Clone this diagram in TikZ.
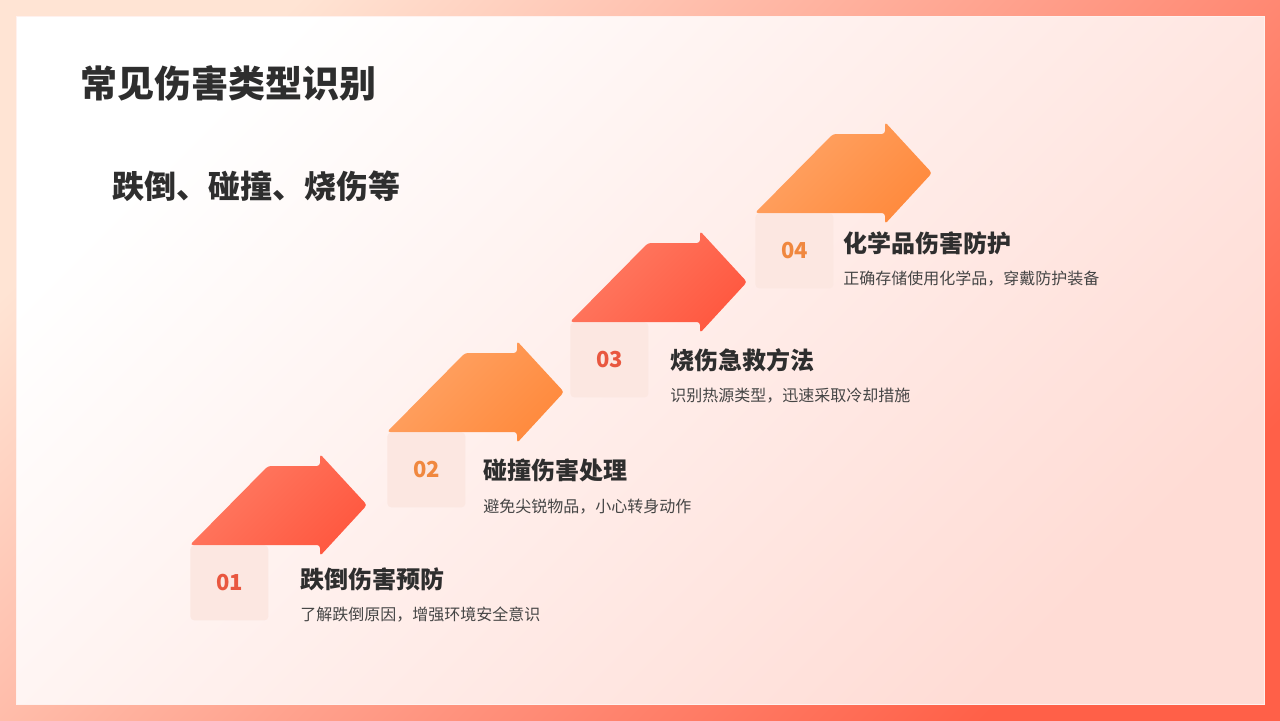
\documentclass[tikz,border=0pt]{standalone}
\usepackage{fontspec}
\setmainfont{Noto Sans CJK SC}
\usetikzlibrary{positioning}
\definecolor{cred}{HTML}{FF5840}
\definecolor{credlt}{HTML}{FF7C64}
\definecolor{corange}{HTML}{FF8A3D}
\definecolor{corangelt}{HTML}{FFA466}
\definecolor{cnumred}{HTML}{E9573F}
\definecolor{cnumorange}{HTML}{F0883F}
\definecolor{cbox}{HTML}{FCE7E1}
\definecolor{cink}{HTML}{2E2E2E}
\definecolor{cgrey}{HTML}{454545}
\definecolor{cframea}{HTML}{FFE4D4}
\definecolor{cframeb}{HTML}{FF6048}
\definecolor{cpanelb}{HTML}{FFDCD5}
\tikzset{
  every picture/.style={x=0.5pt, y=-0.5pt},
  numbox/.style={fill=cbox, rounded corners=2pt, minimum width=39pt, minimum height=37.5pt, inner sep=0pt, font=\bfseries\fontsize{11}{11}\selectfont},
  steptitle/.style={font=\bfseries\fontsize{12}{14}\selectfont, text=cink, anchor=west, inner sep=0pt},
  stepdesc/.style={font=\fontsize{8}{10}\selectfont, text=cgrey, anchor=west, inner sep=0pt},
  heading/.style={font=\bfseries\fontsize{18.5}{20}\selectfont, text=cink, anchor=west, inner sep=0pt},
}

\begin{document}
\begin{tikzpicture}
  \useasboundingbox (0,0) rectangle (1280,720);
  % frame and panel
  \shade[top color=cframea, bottom color=cframeb, shading angle=45] (0,0) rectangle (1280,720);
  \shade[top color=white, bottom color=cpanelb, shading angle=45, draw=white!60!cpanelb, line width=0.4pt] (16,16) rectangle (1264,704);
  \node[heading] (title) at (80,83) {常见伤害类型识别};
  \node[heading, font=\bfseries\fontsize{16}{18}\selectfont] (subtitle) at (112,186) {跌倒、碰撞、烧伤等};
  % the four steps
  \foreach \i/\bx/\by/\lt/\dk/\num/\tx/\ty/\dy/\ti/\de in {
      1/190/545/credlt/cred/cnumred/300/579/615/{跌倒伤害预防}/{了解跌倒原因，增强环境安全意识},
      2/387/432/corangelt/corange/cnumorange/483/470/507/{碰撞伤害处理}/{避免尖锐物品，小心转身动作},
      3/570/322/credlt/cred/cnumred/670/360/396/{烧伤急救方法}/{识别热源类型，迅速采取冷却措施},
      4/755/213/corangelt/corange/cnumorange/843/243/279/{化学品伤害防护}/{正确存储使用化学品，穿戴防护装备}} {
    \node[numbox, anchor=north west, text=\num] (n\i) at (\bx,\by) {0\i};
    \shade[rounded corners=1.5pt, top color=\lt, bottom color=\dk, shading angle=45]
      (\bx,\by) -- ++(78,-79) -- ++(52,0) -- ++(0,-12) -- ++(47,51) -- ++(-47,51) -- ++(0,-11) -- cycle;
    \node[steptitle] (t\i) at (\tx,\ty) {\ti};
    \node[stepdesc] (d\i) at (\tx,\dy) {\de};
  }
\end{tikzpicture}
\end{document}
